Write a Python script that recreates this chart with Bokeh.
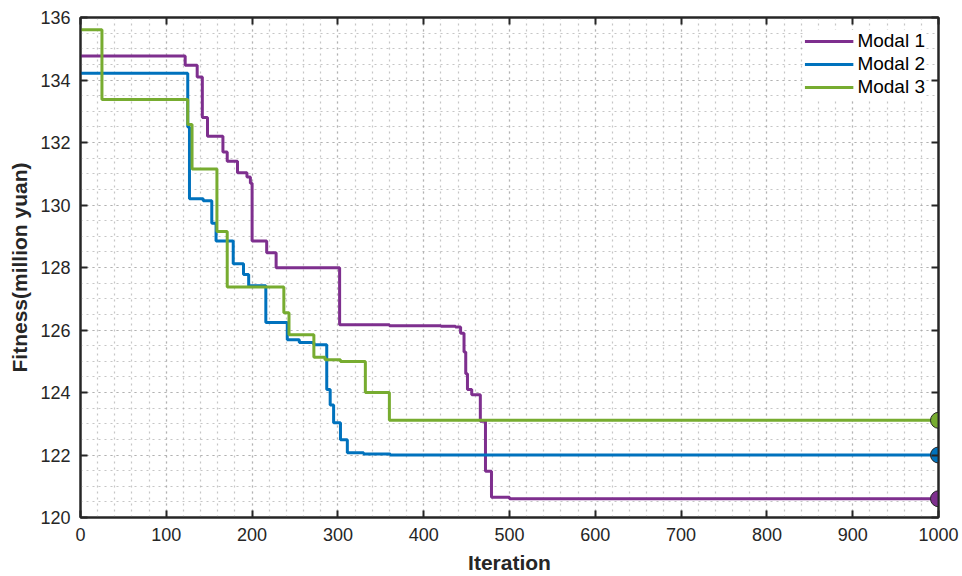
from bokeh.plotting import figure
from bokeh.models import FixedTicker, LinearAxis, Range1d, Legend, LegendItem
from bokeh.embed import file_html
from bokeh.resources import INLINE

# ---- data ----
m1_iter = [0, 122, 136, 142, 148, 166, 171, 183, 194, 198, 200, 217, 228, 302, 360, 420, 437, 443, 447, 449, 451, 456, 466, 472, 479, 500, 1000]
m1_fit = [134.77, 134.47, 134.1, 132.8, 132.2, 131.7, 131.4, 131.03, 130.9, 130.7, 128.85, 128.47, 127.99, 126.17, 126.14, 126.12, 126.1, 125.9, 125.3, 124.6, 124.1, 123.93, 123.08, 121.48, 120.65, 120.6, 120.6]

m2_iter = [0, 125, 127, 143, 153, 158, 178, 190, 196, 216, 241, 255, 272, 287, 291, 295, 303, 311, 330, 361, 1000]
m2_fit = [134.22, 132.5, 130.2, 130.14, 129.42, 128.85, 128.12, 127.78, 127.42, 126.24, 125.69, 125.6, 125.53, 124.1, 123.6, 123.03, 122.49, 122.07, 122.03, 122.0, 122.0]

m3_iter = [0, 25, 125, 130, 159, 171, 237, 243, 272, 285, 303, 332, 360, 1000]
m3_fit = [135.61, 133.38, 132.58, 131.15, 129.15, 127.38, 126.55, 125.85, 125.13, 125.05, 124.99, 124.0, 123.11, 123.11]

series_names = ["Modal 1", "Modal 2", "Modal 3"]
colors = ["#7E2F8E", "#0072BD", "#77AC30"]

x_ticks = [0, 100, 200, 300, 400, 500, 600, 700, 800, 900, 1000]
x_minor = list(range(0, 1001, 20))
y_ticks = [120, 122, 124, 126, 128, 130, 132, 134, 136]
y_minor = [120 + 0.5 * i for i in range(33)]

FONT = "Liberation Sans"
TXT = "#262626"

p = figure(width=962, height=576, output_backend="svg", toolbar_location=None,
           x_range=Range1d(0, 1000), y_range=Range1d(120, 136),
           min_border_left=80, min_border_right=24, min_border_top=17, min_border_bottom=58)

p.outline_line_color = TXT
p.outline_line_width = 2
p.background_fill_color = "white"

xt = FixedTicker(ticks=x_ticks, minor_ticks=x_minor)
yt = FixedTicker(ticks=y_ticks, minor_ticks=y_minor)
p.xaxis.ticker = xt
p.yaxis.ticker = yt

for g, t in ((p.xgrid, xt), (p.ygrid, yt)):
    g.ticker = t
    g.grid_line_color = "#a8a8a8"
    g.grid_line_dash = "2 4"
    g.grid_line_width = 1.2
    g.grid_line_alpha = 0.65
    g.minor_grid_line_color = "#a8a8a8"
    g.minor_grid_line_dash = "2 4"
    g.minor_grid_line_width = 1.2
    g.minor_grid_line_alpha = 0.65

for ax in (p.xaxis[0], p.yaxis[0]):
    ax.axis_line_color = TXT
    ax.axis_line_width = 2
    ax.major_tick_in = 7
    ax.major_tick_out = 0
    ax.major_tick_line_width = 2
    ax.major_tick_line_color = TXT
    ax.minor_tick_line_color = None
    ax.major_label_text_font = FONT
    ax.major_label_text_font_size = "18px"
    ax.major_label_text_color = TXT
    ax.axis_label_text_font = FONT
    ax.axis_label_text_font_style = "bold"
    ax.axis_label_text_font_size = "21px"
    ax.axis_label_text_color = TXT

p.xaxis.axis_label = "Iteration"
p.yaxis.axis_label = "Fitness(million yuan)"
p.xaxis.major_label_standoff = 6
p.xaxis.axis_label_standoff = 7
p.yaxis.major_label_standoff = 6
p.yaxis.axis_label_standoff = 6

# mirrored axes (box on)
top = LinearAxis(ticker=xt, major_label_text_font_size="0px", major_label_standoff=0,
                 major_tick_in=7, major_tick_out=0, major_tick_line_width=2,
                 major_tick_line_color=TXT, minor_tick_line_color=None,
                 axis_line_color=TXT, axis_line_width=2)
right = LinearAxis(ticker=yt, major_label_text_font_size="0px", major_label_standoff=0,
                   major_tick_in=7, major_tick_out=0, major_tick_line_width=2,
                   major_tick_line_color=TXT, minor_tick_line_color=None,
                   axis_line_color=TXT, axis_line_width=2)
p.add_layout(top, "above")
p.add_layout(right, "right")

items = []
for name, xs, ys, c in zip(series_names, (m1_iter, m2_iter, m3_iter), (m1_fit, m2_fit, m3_fit), colors):
    r = p.step(xs, ys, mode="after", line_color=c, line_width=3)
    items.append(LegendItem(label=name, renderers=[r]))

for xs, ys, c in zip((m1_iter, m2_iter, m3_iter), (m1_fit, m2_fit, m3_fit), colors):
    p.scatter([xs[-1]], [ys[-1]], size=16, fill_color=c, line_color=TXT, line_width=1)

legend = Legend(items=items, location="top_right")
legend.label_text_font = FONT
legend.label_text_font_size = "19px"
legend.label_text_color = "black"
legend.border_line_color = None
legend.background_fill_color = "white"
legend.background_fill_alpha = 1.0
legend.glyph_width = 49
legend.glyph_height = 22
legend.label_height = 22
legend.spacing = 1
legend.label_standoff = 4
legend.padding = 10
legend.margin = 13
p.add_layout(legend)

open("out.html", "w").write(file_html(p, INLINE))
